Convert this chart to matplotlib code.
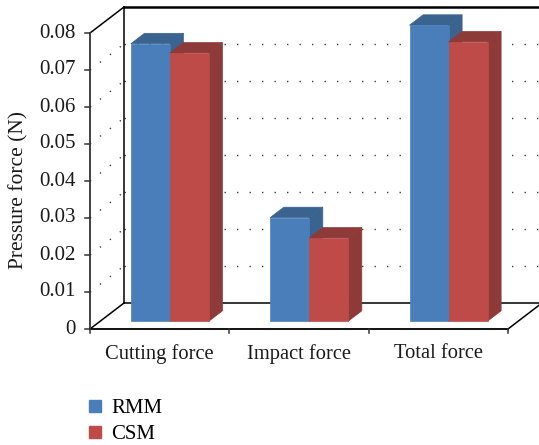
import numpy as np
import matplotlib.pyplot as plt
from matplotlib.patches import Polygon
from matplotlib.lines import Line2D

# ---------------------------------------------------------------------------
# Data
# ---------------------------------------------------------------------------
categories = ["Cutting force", "Impact force", "Total force"]
series_names = ["RMM", "CSM"]
rmm_values = [0.075, 0.028, 0.080]
csm_values = [0.0725, 0.0225, 0.0755]
y_ticks = [0.0, 0.01, 0.02, 0.03, 0.04, 0.05, 0.06, 0.07, 0.08]
y_tick_labels = ["0", "0.01", "0.02", "0.03", "0.04", "0.05", "0.06", "0.07", "0.08"]

# front / top / side shading for each series
colors = {
    "RMM": ("#4A7EBB", "#3B6390", "#3B6390"),
    "CSM": ("#BE4B48", "#8E3A38", "#8E3A38"),
}

# ---------------------------------------------------------------------------
# Pseudo-3D geometry (category units on x, value units on y)
# ---------------------------------------------------------------------------
CAT_PX = 139.33          # pixels per category
VAL_PX = 3700.0          # pixels per value unit
DEPTH_X = 34 / CAT_PX    # full depth shift along x
DEPTH_Y = 26 / VAL_PX    # full depth shift along y
BAR_W = 0.28
BAR_D0, BAR_D1 = 0.3, 0.7
Y_MAX = y_ticks[-1]
X_LO, X_HI = -0.5, len(categories) - 0.5


def proj(x, v, d):
    return (x + d * DEPTH_X, v + d * DEPTH_Y)


W, H = 539, 445
fig = plt.figure(figsize=(W / 100, H / 100), dpi=100)
ax = fig.add_axes([0, 0, 1, 1])
ax.set_xlim(-0.5 - 90 / CAT_PX, -0.5 + (W - 90) / CAT_PX)
ax.set_ylim((329 - H) / VAL_PX, 329 / VAL_PX)
ax.axis("off")

plt.rcParams["font.family"] = ["Liberation Serif", "DejaVu Serif"]
TXT = "#1a1a1a"

# gridlines: back wall and left wall
grid_kw = dict(color="#404040", lw=1.0, linestyle=(0, (1, 8)), zorder=1)
for v in y_ticks[1:-1]:
    xa, ya = proj(X_LO, v, 1)
    xb, yb = proj(X_HI, v, 1)
    ax.plot([xa, xb], [ya, yb], **grid_kw)
    ax.plot([X_LO, xa], [v, ya], **grid_kw)

# wall and floor frame
frame_kw = dict(color="black", lw=1.1, zorder=2)
back_bl = proj(X_LO, 0, 1)
back_tl = proj(X_LO, Y_MAX, 1)
back_tr = proj(X_HI, Y_MAX, 1)
back_br = proj(X_HI, 0, 1)
ax.plot([back_bl[0], back_tl[0]], [back_bl[1], back_tl[1]], **frame_kw)
ax.plot([back_tl[0], back_tr[0]], [back_tl[1], back_tr[1]], color="black", lw=1.8, zorder=2)
ax.plot([X_LO, back_tl[0]], [Y_MAX, back_tl[1]], **frame_kw)
ax.plot([X_LO, back_bl[0]], [0, back_bl[1]], **frame_kw)
ax.plot([back_bl[0], back_br[0]], [back_bl[1], back_br[1]], **frame_kw)
ax.plot([X_HI, back_br[0]], [0, back_br[1]], **frame_kw)
ax.plot([X_LO, X_HI], [0, 0], color="black", lw=1.3, zorder=2)

# front value axis with ticks
ax.plot([X_LO, X_LO], [0, Y_MAX], color="#333333", lw=1.3, zorder=2)
for v, lab in zip(y_ticks, y_tick_labels):
    ax.plot([X_LO - 5 / CAT_PX, X_LO], [v, v], color="#333333", lw=1.1, zorder=2)
    ax.annotate(lab, xy=(X_LO, v), xytext=(-10, 0), textcoords="offset points",
                ha="right", va="center", fontsize=15, color=TXT)

# category ticks and labels
for b in np.arange(X_LO, X_HI + 0.01, 1.0):
    ax.plot([b, b], [0, -4 / VAL_PX], color="#333333", lw=1.1, zorder=2)
for i, cat in enumerate(categories):
    ax.annotate(cat, xy=(i, 0), xytext=(0, -18), textcoords="offset points",
                ha="center", va="center", fontsize=14.8, color=TXT)

# bars
for j, (name, vals) in enumerate(zip(series_names, [rmm_values, csm_values])):
    front, top, side = colors[name]
    for i, v in enumerate(vals):
        x0 = i - BAR_W + j * BAR_W
        x1 = x0 + BAR_W
        side_pts = [proj(x1, 0, BAR_D0), proj(x1, v, BAR_D0),
                    proj(x1, v, BAR_D1), proj(x1, 0, BAR_D1)]
        top_pts = [proj(x0, v, BAR_D0), proj(x1, v, BAR_D0),
                   proj(x1, v, BAR_D1), proj(x0, v, BAR_D1)]
        front_pts = [proj(x0, 0, BAR_D0), proj(x1, 0, BAR_D0),
                     proj(x1, v, BAR_D0), proj(x0, v, BAR_D0)]
        for pts, c in ((side_pts, side), (top_pts, top), (front_pts, front)):
            ax.add_patch(Polygon(pts, closed=True, facecolor=c,
                                 edgecolor=c, lw=0.5, zorder=3 + j))

# axis title
fig.text(19 / W, 1 - 190 / H, "Pressure force (N)", rotation=90,
         ha="center", va="center", fontsize=15.5, color=TXT)

# legend
handles = [Line2D([], [], marker="s", linestyle="none", markersize=8,
                  markerfacecolor=colors[n][0], markeredgecolor=colors[n][0])
           for n in series_names]
fig.legend(handles, series_names, loc="upper left",
           bbox_to_anchor=(74 / W, 1 - 388 / H), frameon=False,
           fontsize=15, handletextpad=0.3, labelspacing=0.3,
           borderpad=0, handlelength=1.0)

fig.savefig("out.png", dpi=100)
